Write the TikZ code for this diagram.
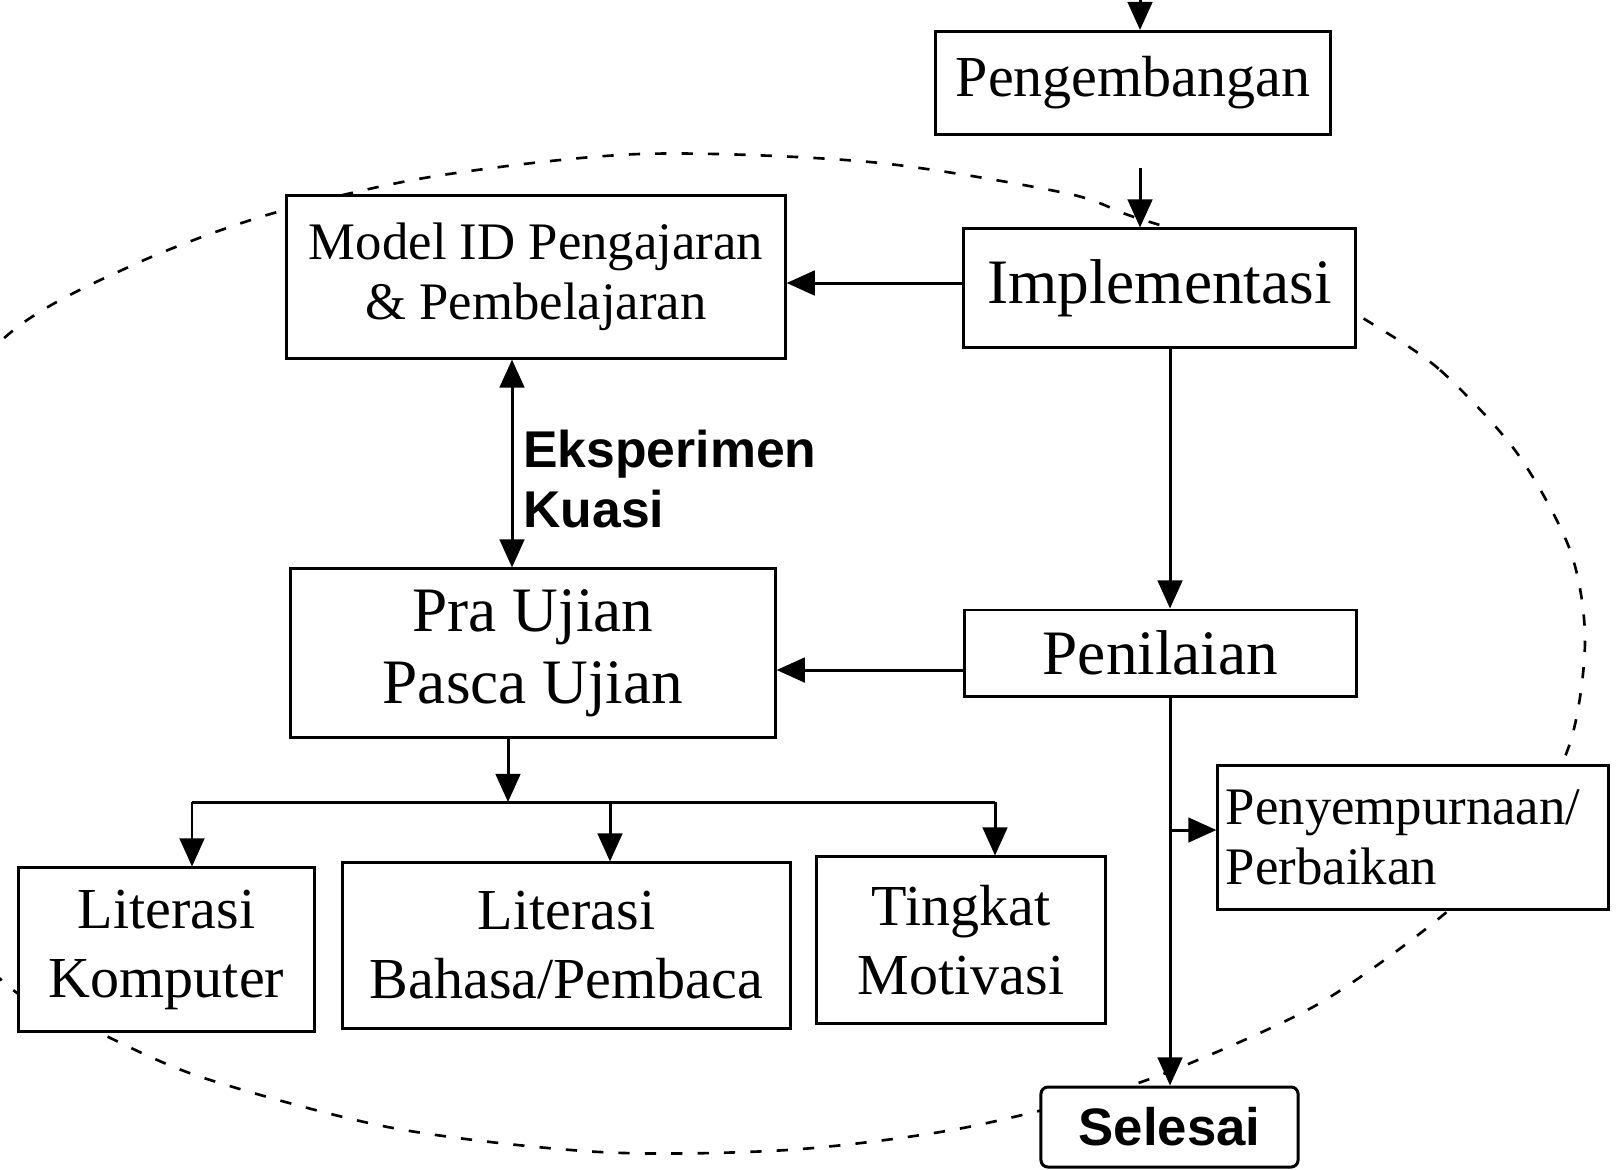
\documentclass[tikz,border=0pt]{standalone}
\usepackage{fontspec}
\setmainfont{Liberation Serif}
\newfontfamily\labelsans{Liberation Sans}
\usetikzlibrary{arrows.meta}

\tikzset{
  boxnode/.style={draw, fill=white, line width=0.85pt, inner sep=0pt, align=center},
  arr/.style={-{Triangle[width=7pt,length=8pt]}, line width=0.85pt},
  dbl/.style={{Triangle[width=7pt,length=8pt]}-{Triangle[width=7pt,length=8pt]}, line width=0.85pt},
  cycleline/.style={line width=0.75pt, dash pattern=on 3.2pt off 4.3pt},
  fbig/.style={font=\fontsize{18}{20.5}\selectfont},
  fmid/.style={font=\fontsize{16.5}{19.6}\selectfont},
  fsmall/.style={font=\fontsize{15}{17}\selectfont},
}

\begin{document}
\begin{tikzpicture}[x=0.01cm, y=-0.01cm]
\useasboundingbox (0,0) rectangle (1616,1169);

% 虚线环
\begin{scope}
\clip (0,0) rectangle (1616,1169);
\draw[cycleline] plot[smooth cycle] coordinates {
  (1366,320) (1440,370) (1517,453) (1570,550) (1585,640) (1570,743)
  (1520,840) (1437,920) (1320,1003) (1193,1062) (1100,1095) (952,1130)
  (787,1150) (600,1152) (393,1128) (204,1078) (100,1033) (7,985)
  (-110,850) (-150,660) (-110,470) (10,333) (133,265) (267,215)
  (430,177) (640,154) (870,162) (1065,193) (1134,217) (1260,258)};
\end{scope}

% 方框
\node[boxnode, fmid, minimum width=3.94cm, minimum height=1.03cm] (peng) at (1133, 83) {Pengembangan};
\node[boxnode, fbig, minimum width=3.91cm, minimum height=1.18cm] (impl) at (1159.5, 288) {Implementasi};
\node[boxnode, fsmall, minimum width=4.98cm, minimum height=1.62cm] (model) at (536, 277) {Model ID Pengajaran\\\& Pembelajaran};
\node[boxnode, fbig, minimum width=4.84cm, minimum height=1.68cm] (pra) at (533, 653) {Pra Ujian\\Pasca Ujian};
\node[boxnode, fbig, minimum width=3.91cm, minimum height=0.86cm] (nilai) at (1160.5, 653) {Penilaian};
\node[boxnode, fsmall, minimum width=3.90cm, minimum height=1.43cm, text width=3.74cm, align=left] (sempurna) at (1413, 837.5) {Penyempurnaan/\\Perbaikan};
\node[boxnode, rounded corners=2pt, minimum width=2.57cm, minimum height=0.80cm, font=\labelsans\bfseries\fontsize{15}{17}\selectfont] (selesai) at (1169.5, 1127) {Selesai};
\node[boxnode, fmid, minimum width=2.95cm, minimum height=1.63cm] (komp) at (166.5, 949.5) {Literasi\\Komputer};
\node[boxnode, fmid, minimum width=4.47cm, minimum height=1.65cm] (bhs) at (566.5, 945.5) {Literasi\\Bahasa/Pembaca};
\node[boxnode, fmid, minimum width=2.88cm, minimum height=1.66cm] (motiv) at (961, 940) {Tingkat\\Motivasi};
\node[anchor=west, align=left, font=\labelsans\bfseries\fontsize{14.7}{17}\selectfont] (eks) at (511, 479) {Eksperimen\\Kuasi};

% 箭头
\coordinate (atas) at (1140, -5);
\coordinate (xe) at (512, 0);
\coordinate (xp) at (508, 0);
\coordinate (b1) at (192, 802);
\coordinate (b2) at (610, 802);
\coordinate (b3) at (995, 802);
\coordinate (cab) at (1170, 830);

\draw[arr] (atas) -- (atas |- peng.north);
\draw[arr, shorten <=0.32cm] (atas |- peng.south) -- (atas |- impl.north);
\draw[arr] ([yshift=0.05cm]impl.west) -- ([yshift=0.05cm]impl.west -| model.east);
\draw[dbl] (xe |- model.south) -- (xe |- pra.north);
\draw[arr] (impl.south -| cab) -- (nilai.north -| cab);
\draw[arr] ([yshift=-0.17cm]nilai.west) -- ([yshift=-0.17cm]nilai.west -| pra.east);
\draw[arr] (xp |- pra.south) -- (xp |- b1);
\draw[line width=0.85pt] (b1) -- (b3);
\draw[arr] (b1) -- (b1 |- komp.north);
\draw[arr] (b2) -- (b2 |- bhs.north);
\draw[arr] (b3) -- (b3 |- motiv.north);
\draw[arr] (nilai.south -| cab) -- (selesai.north -| cab);
\draw[arr] (cab) -- (cab -| sempurna.west);

\end{tikzpicture}
\end{document}
